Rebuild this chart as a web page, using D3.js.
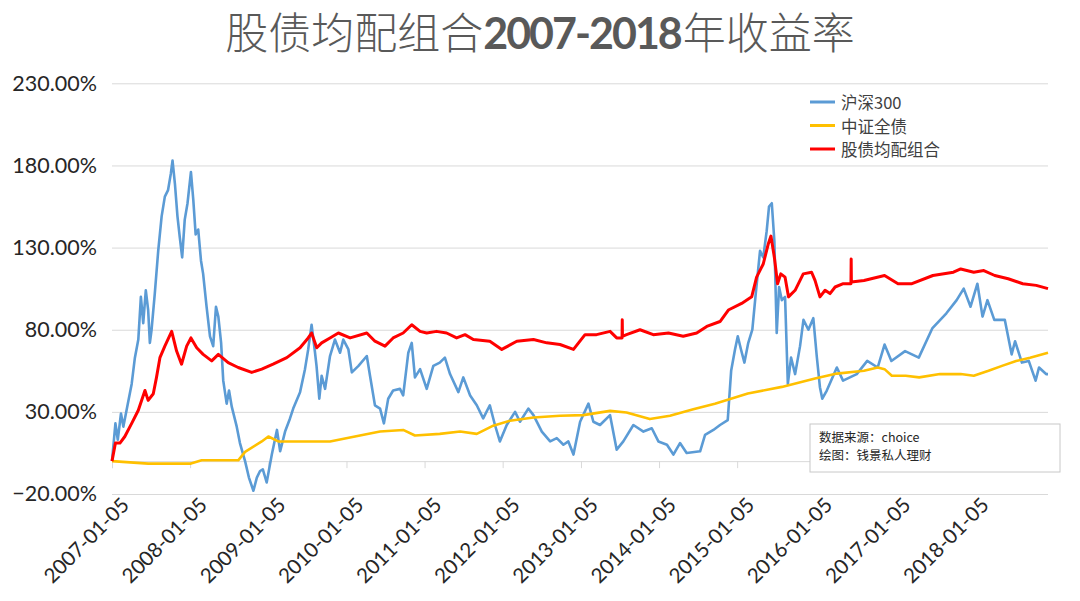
<!DOCTYPE html>
<html><head><meta charset="utf-8">
<script src="https://cdn.jsdelivr.net/npm/d3@7"></script>
<style>
html,body{margin:0;padding:0;background:#fff;}
svg{display:block;}
</style></head>
<body>
<svg id="chart" width="1080" height="601"></svg>
<script>
// ---------- DATA ----------
const seriesNames = ["沪深300", "中证全债", "股债均配组合"];
const xTickLabels = ["2007-01-05","2008-01-05","2009-01-05","2010-01-05","2011-01-05","2012-01-05",
  "2013-01-05","2014-01-05","2015-01-05","2016-01-05","2017-01-05","2018-01-05"];
const yTicks = [-20, 30, 80, 130, 180, 230];

// 沪深300 cumulative return (%)
const hs300 = [
["2007-01-05",0],["2007-01-21",23],["2007-02-01",13],["2007-02-16",29],["2007-02-27",21],["2007-03-14",31],
["2007-04-07",47],["2007-04-22",63],["2007-05-08",74],["2007-05-20",100],["2007-05-31",84],["2007-06-12",104],
["2007-06-23",92],["2007-07-01",72],["2007-07-09",80],["2007-07-24",102],["2007-08-09",128],["2007-08-25",149],
["2007-09-09",161],["2007-09-24",165],["2007-10-07",175],["2007-10-15",183],["2007-10-26",169],["2007-11-07",149],
["2007-11-18",136],["2007-11-29",124],["2007-12-11",147],["2007-12-24",157],["2008-01-09",176],["2008-01-20",159],
["2008-01-31",138],["2008-02-12",141],["2008-02-25",122],["2008-03-06",114],["2008-03-22",94],["2008-04-07",76],
["2008-04-22",70],["2008-05-05",94],["2008-05-16",88],["2008-05-29",72],["2008-06-08",49],["2008-06-24",35],
["2008-07-05",43],["2008-07-18",33],["2008-08-10",21],["2008-08-25",11],["2008-09-18",0],["2008-10-06",-10],
["2008-10-27",-18],["2008-11-12",-10],["2008-11-27",-6],["2008-12-10",-5],["2008-12-28",-13],["2009-01-21",4],
["2009-02-14",19],["2009-03-01",6],["2009-03-24",18],["2009-04-16",26],["2009-05-01",32],["2009-06-02",42],
["2009-06-25",56],["2009-07-10",68],["2009-07-26",83],["2009-08-11",66],["2009-08-18",58],["2009-08-31",38],
["2009-09-11",52],["2009-09-27",44],["2009-10-20",64],["2009-11-12",74],["2009-12-06",66],["2009-12-21",74],
["2010-01-14",68],["2010-01-30",54],["2010-03-02",58],["2010-04-10",64],["2010-04-25",52],["2010-05-18",34],
["2010-06-11",32],["2010-06-29",23],["2010-07-19",38],["2010-08-11",43],["2010-09-12",44],["2010-09-27",40],
["2010-10-21",66],["2010-11-06",72],["2010-11-21",51],["2010-12-15",56],["2011-01-15",44],["2011-02-15",58],
["2011-03-17",60],["2011-04-10",63],["2011-05-04",53],["2011-06-12",42],["2011-07-05",51],["2011-08-06",40],
["2011-09-06",34],["2011-10-06",26],["2011-11-06",34],["2011-11-30",22],["2011-12-23",12],["2012-01-24",22],
["2012-03-03",30],["2012-03-26",24],["2012-05-04",32],["2012-05-28",28],["2012-07-06",18],["2012-08-14",12],
["2012-09-14",14],["2012-10-15",10],["2012-11-07",12],["2012-12-01",4],["2013-01-01",24],["2013-02-09",35],
["2013-03-04",24],["2013-04-04",22],["2013-05-21",28],["2013-06-21",7],["2013-07-22",12],["2013-09-07",22],
["2013-10-24",18],["2013-12-02",20],["2014-01-02",12],["2014-02-11",10],["2014-03-13",4],["2014-04-13",11],
["2014-05-14",5],["2014-07-16",6],["2014-08-08",16],["2014-09-16",19],["2014-10-17",22],["2014-11-22",25],
["2014-12-08",55],["2014-12-26",68],["2015-01-08",76],["2015-01-23",68],["2015-02-08",60],["2015-02-26",72],
["2015-03-17",80],["2015-04-02",102],["2015-04-22",128],["2015-05-07",124],["2015-05-23",140],["2015-06-03",155],
["2015-06-16",157],["2015-06-28",134],["2015-07-09",78],["2015-07-20",106],["2015-08-02",98],["2015-08-17",100],
["2015-08-30",47],["2015-09-14",63],["2015-10-03",53],["2015-10-26",70],["2015-11-11",86],["2015-12-04",80],
["2015-12-27",87],["2016-01-12",64],["2016-01-27",45],["2016-02-07",38],["2016-02-28",43],["2016-03-19",49],
["2016-04-15",57],["2016-05-14",49],["2016-07-17",53],["2016-09-04",61],["2016-10-23",57],["2016-11-24",71],
["2016-12-26",61],["2017-02-28",67],["2017-05-03",63],["2017-07-06",81],["2017-09-09",90],["2017-10-27",98],
["2017-11-29",105],["2017-12-31",94],["2018-02-01",108],["2018-02-25",88],["2018-03-20",98],["2018-04-21",86],
["2018-06-09",86],["2018-07-11",65],["2018-07-27",73],["2018-08-28",60],["2018-09-29",61],["2018-10-31",49],
["2018-11-16",57],["2018-12-19",53],["2018-12-28",53]
];

// 中证全债 cumulative return (%)
const bond = [
["2007-01-05",0],["2007-06-23",-1.5],["2008-01-09",-1.5],["2008-02-28",0.5],["2008-08-17",0.5],["2008-09-18",5.6],
["2008-12-05",12],["2009-01-05",15],["2009-02-20",12],["2009-10-20",12],["2010-03-09",15.6],["2010-06-11",18],
["2010-09-27",19],["2010-11-21",15.6],["2011-03-17",16.6],["2011-06-20",18],["2011-09-06",16.6],["2011-11-22",21.6],
["2012-02-08",24.6],["2012-05-28",26.6],["2012-09-29",27.6],["2013-01-16",28],["2013-05-21",30.6],["2013-08-06",29.6],
["2013-11-23",25.6],["2014-02-25",27.6],["2014-06-14",31.6],["2014-09-23",35],["2015-02-24",41.2],["2015-08-02",45.2],
["2016-01-04",50.3],["2016-04-15",53.3],["2016-08-20",55],["2016-10-23",57],["2016-11-24",56],["2016-12-28",52],
["2017-03-03",52],["2017-05-05",51],["2017-08-10",53],["2017-11-15",53],["2018-01-15",52],["2018-03-25",55],
["2018-05-27",58],["2018-08-01",61],["2018-10-05",63],["2018-12-28",66]
];

// 股债均配组合 cumulative return (%)
const mix = [
["2007-01-05",0],["2007-01-21",11],["2007-02-11",11],["2007-03-06",15],["2007-04-07",23],["2007-05-08",31],
["2007-06-08",43],["2007-06-23",37],["2007-07-17",41],["2007-08-01",51],["2007-08-17",63],["2007-09-09",70],
["2007-10-11",79],["2007-11-03",67],["2007-11-26",59],["2007-12-20",70],["2008-01-09",75],["2008-02-05",69],
["2008-03-06",65],["2008-04-15",61],["2008-05-16",65],["2008-07-01",60],["2008-08-17",57],["2008-10-19",54],
["2008-12-05",56],["2009-01-27",59],["2009-04-01",63],["2009-06-02",69],["2009-07-10",75],["2009-07-26",78],
["2009-08-19",69],["2009-09-11",72],["2009-10-20",75],["2009-11-28",78],["2010-01-22",75],["2010-04-10",78],
["2010-05-18",73],["2010-07-04",70],["2010-08-11",75],["2010-09-27",78],["2010-11-06",83],["2010-12-15",79],
["2011-01-15",78],["2011-03-02",79],["2011-04-18",78],["2011-06-04",75],["2011-07-13",77],["2011-08-21",74],
["2011-11-06",73],["2012-01-01",68],["2012-03-11",73],["2012-05-28",74],["2012-07-29",72],["2012-09-29",71],
["2012-12-01",68],["2013-01-24",77],["2013-03-19",77],["2013-05-21",79],["2013-06-21",75],["2013-07-16",75],
["2013-07-17",86],["2013-07-18",76],["2013-08-06",77],["2013-10-08",80],["2013-12-09",77],["2014-02-18",78],
["2014-04-28",76],["2014-06-30",78],["2014-08-16",82],["2014-10-17",85],["2014-11-25",92],["2015-01-26",96],
["2015-03-14",100],["2015-04-06",112],["2015-05-07",120],["2015-05-30",132],["2015-06-12",137],["2015-06-28",124],
["2015-07-13",108],["2015-07-28",114],["2015-08-17",112],["2015-09-02",100],["2015-10-03",104],["2015-11-10",114],
["2015-12-19",115],["2016-01-04",110],["2016-01-27",100],["2016-02-20",104],["2016-03-14",102],["2016-04-07",106],
["2016-05-15",108],["2016-06-20",108],["2016-06-21",123],["2016-06-22",109],["2016-08-20",110],["2016-11-24",113],
["2017-01-26",108],["2017-04-01",108],["2017-07-08",113],["2017-10-12",115],["2017-11-15",117],["2018-01-15",115],
["2018-03-03",116],["2018-04-23",113],["2018-06-25",111],["2018-09-01",108],["2018-11-03",107],["2018-12-28",105]
];

const seriesColors = ["#5B9BD5", "#FFC000", "#FF0000"];
const sourceLines = ["数据来源：choice", "绘图：钱景私人理财"];

// ---------- DRAW ----------
const parse = d3.timeParse("%Y-%m-%d");
const svg = d3.select("#chart");
const X0 = 112, X1 = 1048, Y0 = 494, Y1 = 83.3;
const latin = "Lato, 'Liberation Sans', sans-serif";

const x = d3.scaleTime().domain([parse("2007-01-05"), parse("2018-12-28")]).range([X0, X1]);
const y = d3.scaleLinear().domain([-20, 230]).range([Y0, Y1]);

// title
const title = svg.append("text").attr("x", 540).attr("y", 49).attr("text-anchor", "middle")
  .attr("fill", "#595959").style("font-size", "43px");
title.append("tspan").style("font-family", "'Noto Sans CJK SC'").style("font-weight", 300).text("股债均配组合");
title.append("tspan").style("font-family", latin).style("font-weight", 700)
  .style("letter-spacing", "-2px").text("2007-2018");
title.append("tspan").attr("dx", 2).style("font-family", "'Noto Sans CJK SC'").style("font-weight", 300).text("年收益率");

// gridlines + y labels
const yAxis = d3.axisLeft(y).tickValues(yTicks).tickSize(-(X1 - X0)).tickPadding(15)
  .tickFormat(d => d3.format(".2f")(d) + "%");
const gy = svg.append("g").attr("transform", `translate(${X0},0)`).call(yAxis);
gy.select(".domain").remove();
gy.selectAll(".tick line").attr("stroke", "#d9d9d9").attr("stroke-width", 1);
gy.selectAll(".tick text").attr("fill", "#262626").style("font-family", latin).style("font-size", "21.5px");

// x axis at 0%
const tickDates = xTickLabels.map(parse);
const xAxis = d3.axisBottom(x).tickValues(tickDates).tickSize(7).tickFormat("");
const gx = svg.append("g").attr("transform", `translate(0,${y(0)})`).call(xAxis);
gx.select(".domain").attr("stroke", "#d9d9d9");
gx.selectAll(".tick line").attr("stroke", "#d9d9d9");

// x labels at bottom, rotated
svg.append("g").selectAll("text").data(xTickLabels).join("text")
  .attr("transform", d => `translate(${x(parse(d)) + 8},${Y0 + 2}) rotate(-45)`)
  .attr("text-anchor", "end").attr("dy", "0.72em")
  .attr("fill", "#262626").style("font-family", latin).style("font-size", "20.5px")
  .text(d => d);

// lines
const line = d3.line().x(d => x(parse(d[0]))).y(d => y(d[1]));
const allSeries = [hs300, bond, mix];
const widths = [2.6, 2.6, 3];
allSeries.forEach((s, i) => {
  svg.append("path").datum(s).attr("d", line).attr("fill", "none")
    .attr("stroke", seriesColors[i]).attr("stroke-width", widths[i])
    .attr("stroke-linejoin", "round");
});

// legend
const lg = svg.append("g");
seriesNames.forEach((n, i) => {
  const ly = 102 + i * 23.5;
  lg.append("line").attr("x1", 810).attr("x2", 835).attr("y1", ly).attr("y2", ly)
    .attr("stroke", seriesColors[i]).attr("stroke-width", 3);
  lg.append("text").attr("x", 841).attr("y", ly).attr("dominant-baseline", "central")
    .attr("fill", "#404040").style("font-family", "'Noto Sans CJK SC'").style("font-size", "16.5px").text(n);
});

// source box
svg.append("rect").attr("x", 810).attr("y", 424).attr("width", 250).attr("height", 48)
  .attr("fill", "#fff").attr("stroke", "#c8c8c8").attr("stroke-width", 1);
sourceLines.forEach((t, i) => {
  svg.append("text").attr("x", 819).attr("y", 436 + i * 18).attr("dominant-baseline", "central")
    .attr("fill", "#262626").style("font-family", "'Noto Sans CJK SC'").style("font-size", "12.5px").text(t);
});
</script>
</body></html>
